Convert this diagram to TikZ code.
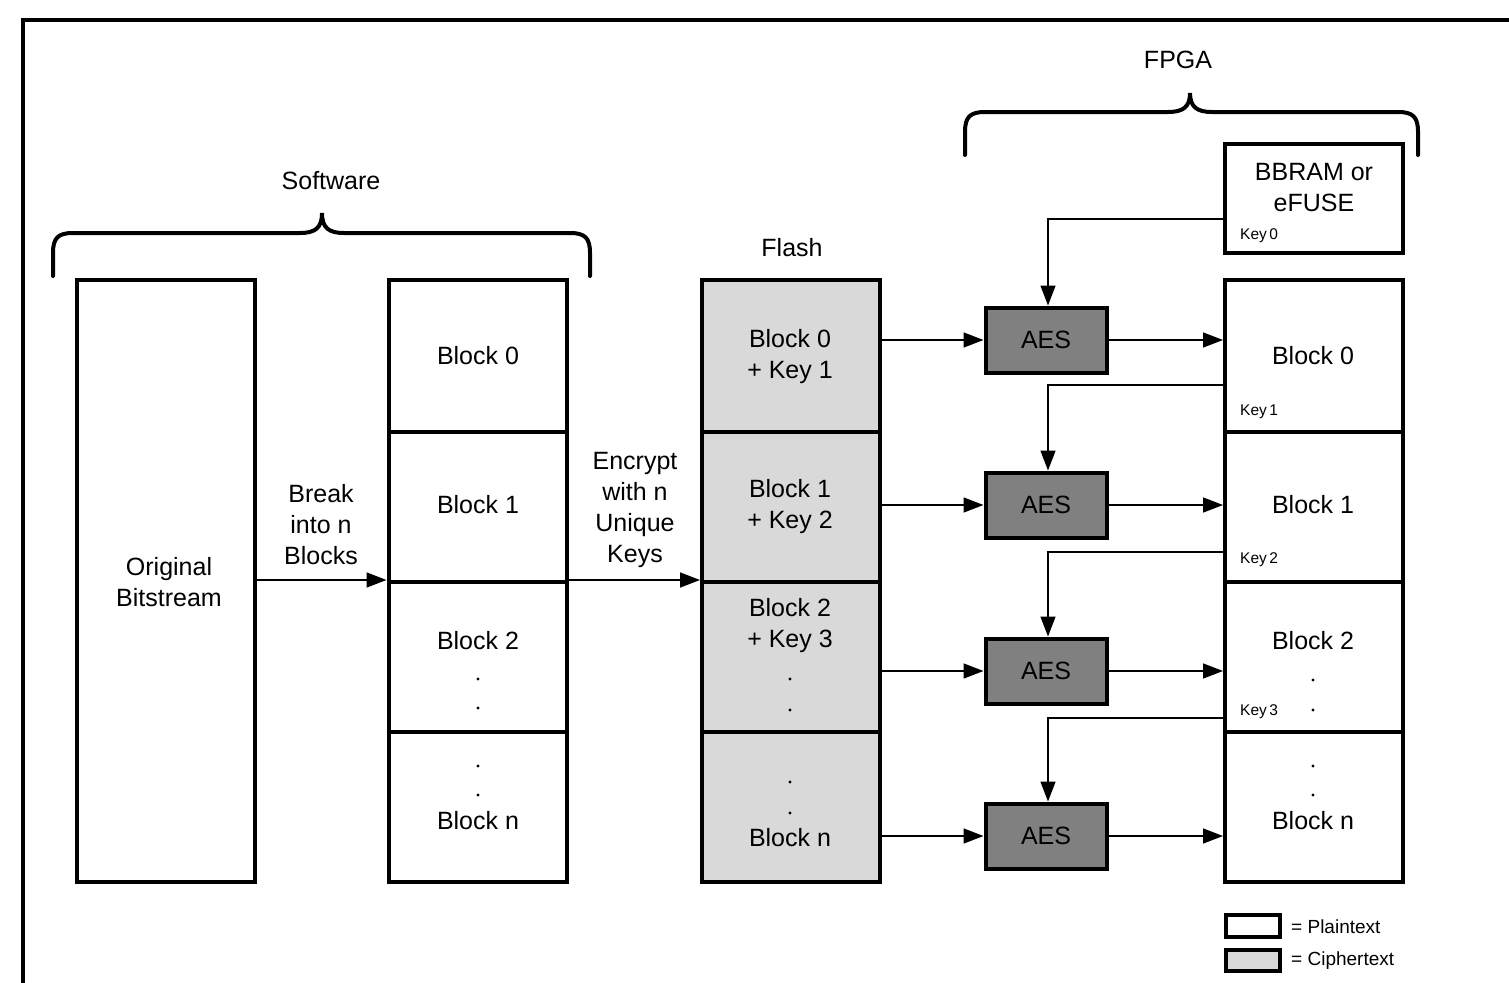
\documentclass[tikz,border=0pt]{standalone}
\usepackage{fontspec}
\setmainfont{Liberation Sans}
\usetikzlibrary{arrows.meta}
\definecolor{cipher}{HTML}{D9D9D9}
\definecolor{aesgray}{HTML}{808080}
\begin{document}
\begin{tikzpicture}[x=1pt,y=-1pt,
  txt/.style={font=\fontsize{25}{31}\selectfont, align=center, inner sep=0pt},
  keylab/.style={font=\fontsize{15.5}{18}\selectfont, inner sep=0pt, anchor=west},
  leg/.style={font=\fontsize{19}{22}\selectfont, inner sep=0pt, anchor=west},
  cell/.style={draw, line width=4pt, minimum width=178pt, inner sep=0pt},
  ccell/.style={cell, fill=cipher},
  aes/.style={draw, line width=4pt, fill=aesgray, minimum width=121pt, minimum height=65pt, inner sep=0pt, font=\fontsize{25}{31}\selectfont},
  brace/.style={line width=4pt, line cap=round},
  arr/.style={line width=1.5pt, -{Triangle[length=20pt,width=15pt]}},
  dotm/.style={fill=black}
]
\useasboundingbox (0,0) rectangle (1509,982);
% outer frame
\draw[line width=4pt] (1520,20) -- (23,20) -- (23,995);

% Software brace
\draw[brace] (53,276) -- (53,253) .. controls (53,238) and (58,233) .. (73,233) -- (300,233) .. controls (315,233) and (322,228) .. (322,213) .. controls (322,228) and (329,233) .. (344,233) -- (570,233) .. controls (585,233) and (590,238) .. (590,253) -- (590,276);
\node[txt] (lsw) at (331,181) {Software};

% FPGA brace
\draw[brace] (965,155) -- (965,132) .. controls (965,117) and (970,112) .. (985,112) -- (1168,112) .. controls (1183,112) and (1190,107) .. (1190,93) .. controls (1190,107) and (1197,112) .. (1212,112) -- (1398,112) .. controls (1413,112) and (1418,117) .. (1418,132) -- (1418,155);
\node[txt] (lfpga) at (1178,60) {FPGA};

% Original bitstream
\node[cell, minimum height=602pt] (orig) at (166,581) {};
\node[txt] (lorig) at (169,582) {Original\\Bitstream};

% Software blocks
\node[cell, minimum height=152pt] (b0) at (477.5,356) {};
\node[cell, minimum height=150pt] (b1) at (477.5,507) {};
\node[cell, minimum height=150pt] (b2) at (477.5,657) {};
\node[cell, minimum height=150pt] (b3) at (477.5,807) {};
\node[txt] (tb0) at (478,356) {Block 0};
\node[txt] (tb1) at (478,505) {Block 1};
\node[txt] (tb2) at (478,641) {Block 2};
\node[txt] (tb3) at (478,821) {Block n};
\fill[dotm] (478,679) circle (1.6) (478,708) circle (1.6) (478,766) circle (1.6) (478,795) circle (1.6);

% Flash
\node[txt] (lflash) at (792,248) {Flash};
\node[ccell, minimum height=152pt] (f0) at (791,356) {};
\node[ccell, minimum height=150pt] (f1) at (791,507) {};
\node[ccell, minimum height=150pt] (f2) at (791,657) {};
\node[ccell, minimum height=150pt] (f3) at (791,807) {};
\node[txt] (tf0) at (790,357) {Block 0\\+ Key 1};
\node[txt] (tf1) at (790,507) {Block 1\\+ Key 2};
\node[txt] (tf2) at (790,626) {Block 2\\+ Key 3};
\node[txt] (tf3) at (790,838) {Block n};
\fill[dotm] (790,679) circle (1.6) (790,710) circle (1.6) (790,782) circle (1.6) (790,813) circle (1.6);

% Arrows software
\draw[arr] (orig.east |- b2.north west) -- (b2.north west);
\node[txt] (lbreak) at (321,525) {Break\\into n\\Blocks};
\draw[arr] (b2.north east) -- (f2.north west);
\node[txt] (lenc) at (635,510) {Encrypt\\with n\\Unique\\Keys};

% BBRAM
\node[cell, minimum height=109pt] (bb) at (1314,198.5) {};
\node[txt] (tbb) at (1314,188) {BBRAM or\\eFUSE};
\node[keylab] (k0l) at (1240,236) {Key\,0};

% Right column
\node[cell, minimum height=152pt] (r0) at (1314,356) {};
\node[cell, minimum height=150pt] (r1) at (1314,507) {};
\node[cell, minimum height=150pt] (r2) at (1314,657) {};
\node[cell, minimum height=150pt] (r3) at (1314,807) {};
\node[txt] (tr0) at (1313,356) {Block 0};
\node[txt] (tr1) at (1313,505) {Block 1};
\node[txt] (tr2) at (1313,641) {Block 2};
\node[txt] (tr3) at (1313,821) {Block n};
\fill[dotm] (1313,680) circle (1.6) (1313,710) circle (1.6) (1313,766) circle (1.6) (1313,795) circle (1.6);
\node[keylab] (k1l) at (1240,412) {Key\,1};
\node[keylab] (k2l) at (1240,560) {Key\,2};
\node[keylab] (k3l) at (1240,712) {Key\,3};

% AES
\node[aes] (a0) at (1046,340) {AES};
\node[aes] (a1) at (1046,505) {AES};
\node[aes] (a2) at (1046,671) {AES};
\node[aes] (a3) at (1046,836) {AES};

% flash -> AES -> plaintext
\foreach \f/\a/\r in {f0/a0/r0, f1/a1/r1, f2/a2/r2, f3/a3/r3}{
  \draw[arr] (\f.east |- \a.west) -- (\a.west);
  \draw[arr] (\a.east) -- (\a.east -| \r.west);
}

% key lines
\coordinate (kc0) at (1225,219);
\coordinate (kc1) at (1225,385);
\coordinate (kc2) at (1225,552);
\coordinate (kc3) at (1225,718);
\draw[arr] (kc0) -| ([xshift=2pt]a0.north);
\draw[arr] (kc1) -| ([xshift=2pt]a1.north);
\draw[arr] (kc2) -| ([xshift=2pt]a2.north);
\draw[arr] (kc3) -| ([xshift=2pt]a3.north);

% legend
\node[draw, line width=4pt, minimum width=54pt, minimum height=22pt, inner sep=0pt] (lg1) at (1253,926) {};
\node[draw, line width=4pt, fill=cipher, minimum width=54pt, minimum height=21pt, inner sep=0pt] (lg2) at (1253,960.5) {};
\node[leg] (lgt1) at (1291,927) {= Plaintext};
\node[leg] (lgt2) at (1291,961) {= Ciphertext};
\end{tikzpicture}
\end{document}
